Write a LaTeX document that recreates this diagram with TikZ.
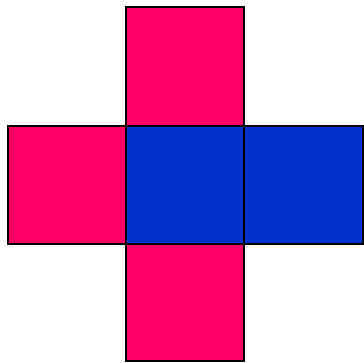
\documentclass[tikz,border=0pt]{standalone}
\definecolor{netpink}{RGB}{255,0,102}
\definecolor{netblue}{RGB}{0,51,204}
\tikzset{
  face/.style={draw=black, line width=2pt},
  pinkface/.style={face, fill=netpink},
  blueface/.style={face, fill=netblue}
}
\begin{document}
\begin{tikzpicture}[x=1pt,y=1pt]
\useasboundingbox (0,0) rectangle (364,362);
% top
\draw[pinkface] (126,236) rectangle (244.3,354.5);
% left
\draw[pinkface] (8,117.6) rectangle (126,236);
% bottom
\draw[pinkface] (126,1.2) rectangle (244.3,117.6);
% right
\draw[blueface] (244.3,117.6) rectangle (362.7,236);
% centre
\draw[blueface] (126,117.6) rectangle (244.3,236);
\end{tikzpicture}
\end{document}
